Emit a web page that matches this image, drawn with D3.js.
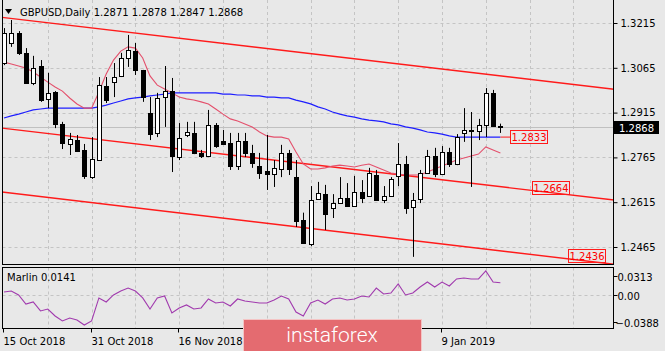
<!DOCTYPE html>
<html>
<head>
<meta charset="utf-8">
<script src="https://cdn.jsdelivr.net/npm/d3@7"></script>
<style>
  body { margin: 0; background: #e8e8e8; }
  svg { display: block; }
  text { font-family: "DejaVu Sans", sans-serif; font-size: 10px; }
</style>
</head>
<body>
<div class="container"></div>
<script>
// GBPUSD daily, bar 0 = 15 Oct 2018, last bar = 21 Jan 2019
var opens = [1.3081, 1.3148, 1.3182, 1.3115, 1.3014, 1.3071, 1.2961, 1.2984, 1.2877, 1.2810,
    1.2823, 1.2790, 1.2699, 1.2756, 1.3004, 1.3017, 1.3038, 1.3098, 1.3121, 1.3058,
    1.2914, 1.2847, 1.2967, 1.2987, 1.2766, 1.2840, 1.2847, 1.2780, 1.2770, 1.2874,
    1.2820, 1.2813, 1.2736, 1.2820, 1.2780, 1.2736, 1.2720, 1.2709, 1.2726, 1.2780,
    1.2699, 1.2555, 1.2475, 1.2626, 1.2642, 1.2596, 1.2612, 1.2629, 1.2602, 1.2649,
    1.2636, 1.2706, 1.2622, 1.2636, 1.2703, 1.2743, 1.2599, 1.2626, 1.2713, 1.2770,
    1.2709, 1.2783, 1.2743, 1.2847, 1.2857, 1.2853, 1.2874, 1.2981, 1.2871];
var highs = [1.3198, 1.3225, 1.3188, 1.3131, 1.3105, 1.3091, 1.3048, 1.2987, 1.2884, 1.2847,
    1.2840, 1.2810, 1.2833, 1.3034, 1.3034, 1.3081, 1.3115, 1.3175, 1.3148, 1.3058,
    1.2967, 1.2981, 1.3071, 1.3031, 1.2880, 1.2884, 1.2884, 1.2790, 1.2924, 1.2880,
    1.2857, 1.2847, 1.2847, 1.2847, 1.2807, 1.2780, 1.2840, 1.2756, 1.2807, 1.2790,
    1.2756, 1.2580, 1.2669, 1.2683, 1.2673, 1.2642, 1.2699, 1.2679, 1.2703, 1.2689,
    1.2730, 1.2723, 1.2669, 1.2699, 1.2813, 1.2770, 1.2646, 1.2723, 1.2790, 1.2797,
    1.2803, 1.2797, 1.2843, 1.2930, 1.2917, 1.2894, 1.2997, 1.2991, 1.2878];
var lows = [1.3074, 1.3135, 1.3108, 1.3014, 1.3007, 1.2951, 1.2930, 1.2863, 1.2793, 1.2773,
    1.2783, 1.2693, 1.2693, 1.2756, 1.2947, 1.2967, 1.3034, 1.3068, 1.3041, 1.2951,
    1.2823, 1.2833, 1.2867, 1.2716, 1.2756, 1.2833, 1.2776, 1.2763, 1.2766, 1.2797,
    1.2807, 1.2723, 1.2723, 1.2766, 1.2730, 1.2693, 1.2656, 1.2666, 1.2699, 1.2706,
    1.2532, 1.2475, 1.2468, 1.2626, 1.2522, 1.2562, 1.2612, 1.2599, 1.2599, 1.2612,
    1.2636, 1.2622, 1.2612, 1.2633, 1.2669, 1.2576, 1.2432, 1.2612, 1.2713, 1.2699,
    1.2706, 1.2733, 1.2739, 1.2817, 1.2666, 1.2823, 1.2833, 1.2870, 1.2847];
var closes = [1.3182, 1.3182, 1.3115, 1.3014, 1.3064, 1.2957, 1.2981, 1.2877, 1.2813, 1.2827,
    1.2786, 1.2703, 1.2760, 1.3007, 1.2957, 1.3034, 1.3098, 1.3125, 1.3058, 1.2967,
    1.2843, 1.2964, 1.2987, 1.2770, 1.2830, 1.2850, 1.2780, 1.2770, 1.2874, 1.2803,
    1.2810, 1.2736, 1.2820, 1.2780, 1.2746, 1.2713, 1.2709, 1.2730, 1.2780, 1.2726,
    1.2552, 1.2478, 1.2622, 1.2646, 1.2576, 1.2612, 1.2629, 1.2602, 1.2649, 1.2629,
    1.2713, 1.2622, 1.2636, 1.2693, 1.2743, 1.2596, 1.2622, 1.2713, 1.2770, 1.2709,
    1.2783, 1.2743, 1.2833, 1.2857, 1.2853, 1.2874, 1.2981, 1.2870, 1.2868];

var maFast = [1.3084, 1.3078, 1.3071, 1.3064, 1.3051, 1.3034, 1.3017, 1.3001, 1.2987, 1.2964,
    1.2944, 1.2930, 1.2930, 1.2984, 1.3044, 1.3091, 1.3121, 1.3135, 1.3131, 1.3098,
    1.3038, 1.3007, 1.2994, 1.2981, 1.2967, 1.2961, 1.2957, 1.2951, 1.2944, 1.2927,
    1.2910, 1.2894, 1.2887, 1.2877, 1.2867, 1.2850, 1.2837, 1.2833, 1.2833, 1.2827,
    1.2783, 1.2743, 1.2726, 1.2726, 1.2730, 1.2736, 1.2739, 1.2736, 1.2733, 1.2739,
    1.2743, 1.2733, 1.2723, 1.2713, 1.2709, 1.2706, 1.2706, 1.2706, 1.2716, 1.2726,
    1.2736, 1.2746, 1.2756, 1.2763, 1.2770, 1.2776, 1.2800, 1.2790, 1.2780];
var maSlow = [1.2897, 1.2904, 1.2910, 1.2917, 1.2924, 1.2927, 1.2930, 1.2930, 1.2930, 1.2930,
    1.2930, 1.2930, 1.2930, 1.2934, 1.2940, 1.2947, 1.2954, 1.2961, 1.2964, 1.2967,
    1.2971, 1.2974, 1.2977, 1.2981, 1.2981, 1.2981, 1.2981, 1.2981, 1.2981, 1.2981,
    1.2977, 1.2977, 1.2974, 1.2974, 1.2971, 1.2971, 1.2967, 1.2967, 1.2964, 1.2964,
    1.2957, 1.2951, 1.2944, 1.2934, 1.2927, 1.2917, 1.2910, 1.2904, 1.2900, 1.2894,
    1.2890, 1.2887, 1.2884, 1.2877, 1.2874, 1.2867, 1.2863, 1.2857, 1.2850, 1.2847,
    1.2843, 1.2837, 1.2833, 1.2833, 1.2833, 1.2833, 1.2833, 1.2833, 1.2833];
var marlin = [0.0033, 0.0044, -0.0002, -0.0108, -0.0084, -0.0189, -0.0166, -0.0248, -0.0306, -0.0271,
    -0.0294, -0.0353, -0.0306, -0.0037, -0.0084, -0.0002, 0.0044, 0.0079, 0.0044, -0.0037,
    -0.0166, -0.0037, -0.0014, -0.0213, -0.0154, -0.0119, -0.0166, -0.0154, -0.0049, -0.0096,
    -0.0084, -0.0131, -0.0049, -0.0073, -0.0084, -0.0096, -0.0096, -0.0061, -0.0014, -0.0049,
    -0.0201, -0.0248, -0.0096, -0.0061, -0.0108, -0.0049, -0.0037, -0.0061, -0.0049, -0.0014,
    -0.0026, 0.0079, 0.0009, 0.0021, 0.0126, -0.0002, 0.0021, 0.0091, 0.0149, 0.0091,
    0.0149, 0.0103, 0.0185, 0.0196, 0.0185, 0.0185, 0.0278, 0.0149, 0.0141];

// channel lines: [bar, price] at both ends
var channelBars = [-1, 84];
var channelTop = [1.3236, 1.2992];
var channelMid = [1.2865, 1.2621];
var channelLow = [1.2651, 1.2406];

var priceTicks = [1.3215, 1.3065, 1.2915, 1.2765, 1.2615, 1.2465];
var marlinTicks = [0.0313, 0, -0.0388];
// the 4 Dec and 20 Dec labels sit under the watermark in the original, so only the visible ones
var dateLabels = ['15 Oct 2018', '31 Oct 2018', '16 Nov 2018', '9 Jan 2019'];
var dateBars = [0, 12, 24, 60];
var gridBars = [6, 12, 18, 24, 30, 36, 42, 48, 54, 60, 66, 72, 78];
var lineLabels = [{value: 1.2833, x: 510}, {value: 1.2664, x: 532}, {value: 1.2436, x: 568}];

const WIDTH = 665, HEIGHT = 351;
const LEFT = 2.5, RIGHT = 613.5, MAIN_BOTTOM = 264.5, IND_TOP = 267.5, IND_BOTTOM = 328.5;

var xScale = d3.scaleLinear().domain([0, 68]).range([4, 500.4]);
var yScale = d3.scaleLinear().domain([1.2465, 1.3215]).range([247, 23]);
var mScale = d3.scaleLinear().domain([-0.0388, 0.0313]).range([328, 268]);

var px = function (i) { return Math.round(xScale(i)) + 0.5; };

var svg = d3.select('.container').append('svg')
    .attr('width', WIDTH).attr('height', HEIGHT);

svg.append('rect').attr('width', WIDTH).attr('height', HEIGHT).attr('fill', '#e8e8e8');

var defs = svg.append('defs');
defs.append('clipPath').attr('id', 'mainClip').append('rect')
    .attr('x', LEFT).attr('y', 0).attr('width', RIGHT - LEFT).attr('height', MAIN_BOTTOM);
defs.append('clipPath').attr('id', 'indClip').append('rect')
    .attr('x', LEFT).attr('y', IND_TOP).attr('width', RIGHT - LEFT).attr('height', IND_BOTTOM - IND_TOP);

// grid
var grid = svg.append('g').attr('stroke', '#c4c4c4').attr('stroke-dasharray', '3,3');
gridBars.forEach(function (b) {
    var x = px(b);
    if (x > RIGHT) return;
    grid.append('line').attr('x1', x).attr('x2', x).attr('y1', 0).attr('y2', MAIN_BOTTOM);
    grid.append('line').attr('x1', x).attr('x2', x).attr('y1', IND_TOP).attr('y2', IND_BOTTOM);
});
priceTicks.forEach(function (p) {
    var y = Math.round(yScale(p)) + 0.5;
    grid.append('line').attr('x1', LEFT).attr('x2', RIGHT).attr('y1', y).attr('y2', y);
});
grid.append('line').attr('x1', LEFT).attr('x2', RIGHT)
    .attr('y1', Math.round(mScale(0)) + 0.5).attr('y2', Math.round(mScale(0)) + 0.5);

var main = svg.append('g').attr('clip-path', 'url(#mainClip)');

// bid line
var bidY = Math.round(yScale(closes[closes.length - 1])) + 0.5;
main.append('line').attr('x1', LEFT).attr('x2', RIGHT).attr('y1', bidY).attr('y2', bidY)
    .attr('stroke', '#c0c0c0');

// channel
[channelTop, channelMid, channelLow].forEach(function (ch) {
    main.append('line')
        .attr('x1', xScale(channelBars[0])).attr('y1', yScale(ch[0]))
        .attr('x2', xScale(channelBars[1])).attr('y2', yScale(ch[1]))
        .attr('stroke', '#ff1a1a').attr('stroke-width', 1.4);
});

// moving averages
var bars = d3.range(closes.length);
var maLine = function (values) {
    return d3.line().x(function (i) { return xScale(i); }).y(function (i) { return yScale(values[i]); });
};
main.append('path').datum(bars).attr('d', maLine(maSlow))
    .attr('fill', 'none').attr('stroke', '#1e1eff').attr('stroke-width', 1.2);
main.append('path').datum(bars).attr('d', maLine(maFast))
    .attr('fill', 'none').attr('stroke', '#e4506c').attr('stroke-width', 1.1);

// candles
var candles = main.selectAll('g.candle').data(bars).enter().append('g').classed('candle', true);
candles.append('line')
    .attr('x1', function (i) { return px(i); }).attr('x2', function (i) { return px(i); })
    .attr('y1', function (i) { return yScale(highs[i]); })
    .attr('y2', function (i) { return yScale(lows[i]); })
    .attr('stroke', '#000');
candles.append('rect')
    .attr('x', function (i) { return px(i) - 2; })
    .attr('width', 4)
    .attr('y', function (i) { return Math.round(yScale(Math.max(opens[i], closes[i]))) + 0.5; })
    .attr('height', function (i) {
        return Math.max(1, Math.round(yScale(Math.min(opens[i], closes[i])) - yScale(Math.max(opens[i], closes[i]))));
    })
    .attr('fill', function (i) { return closes[i] > opens[i] ? '#fff' : '#000'; })
    .attr('stroke', '#000');

// line value labels
var lastX = px(68);
main.append('line').attr('x1', lastX).attr('x2', 510)
    .attr('y1', yScale(lineLabels[0].value)).attr('y2', yScale(lineLabels[0].value))
    .attr('stroke', '#ff1a1a');
lineLabels.forEach(function (l) {
    var y = Math.round(yScale(l.value));
    var g = svg.append('g');
    g.append('rect').attr('x', l.x + 0.5).attr('y', y - 6.5).attr('width', 37).attr('height', 13)
        .attr('fill', 'none').attr('stroke', '#ff1a1a');
    g.append('text').attr('x', l.x + 19).attr('y', y + 4).attr('text-anchor', 'middle')
        .attr('fill', '#ff0000').text(d3.format('.4f')(l.value));
});

// indicator
svg.append('g').attr('clip-path', 'url(#indClip)').append('path').datum(bars)
    .attr('d', d3.line().x(function (i) { return xScale(i); }).y(function (i) { return mScale(marlin[i]); }))
    .attr('fill', 'none').attr('stroke', '#a13aae').attr('stroke-width', 1.1);

// panel borders
svg.append('rect').attr('x', LEFT).attr('y', -1).attr('width', RIGHT - LEFT).attr('height', MAIN_BOTTOM + 1)
    .attr('fill', 'none').attr('stroke', '#000');
svg.append('rect').attr('x', LEFT).attr('y', IND_TOP).attr('width', RIGHT - LEFT).attr('height', IND_BOTTOM - IND_TOP)
    .attr('fill', 'none').attr('stroke', '#000');

// price axis
var priceAxis = svg.append('g').attr('transform', 'translate(' + RIGHT + ',0)')
    .call(d3.axisRight(yScale).tickValues(priceTicks).tickFormat(d3.format('.4f')).tickSize(4).tickPadding(3));
priceAxis.select('.domain').remove();
priceAxis.selectAll('text').attr('fill', '#000').style('font-size', '10px').style('font-family', 'DejaVu Sans');

// marlin axis
var mAxis = svg.append('g').attr('transform', 'translate(' + RIGHT + ',0)');
marlinTicks.forEach(function (v) {
    var y = mScale(v);
    if (v === marlinTicks[0]) y += 8;
    if (v === marlinTicks[2]) y -= 6;
    y = Math.round(y) + 0.5;
    mAxis.append('line').attr('x1', 0).attr('x2', 4).attr('y1', y).attr('y2', y).attr('stroke', '#000');
    mAxis.append('text').attr('x', v < 0 ? 2 : 4).attr('y', y + 4).attr('fill', '#000')
        .text(v === 0 ? '0.00' : d3.format('.4f')(v));
});

// bid price box
var last = closes[closes.length - 1];
svg.append('rect').attr('x', 614).attr('y', bidY - 6.5).attr('width', 45).attr('height', 13).attr('fill', '#000');
svg.append('text').attr('x', 636.5).attr('y', bidY + 4).attr('text-anchor', 'middle').attr('fill', '#fff')
    .text(d3.format('.4f')(last));

// time axis
var tAxis = svg.append('g').attr('transform', 'translate(0,' + IND_BOTTOM + ')');
dateBars.forEach(function (b, k) {
    var x = Math.round(xScale(b)) - 0.5;
    tAxis.append('line').attr('x1', x).attr('x2', x).attr('y1', 0).attr('y2', 4).attr('stroke', '#000');
    tAxis.append('text').attr('x', x).attr('y', 16).attr('fill', '#000').text(dateLabels[k]);
});

// header
svg.append('path').attr('d', 'M5,9 L12,9 L8.5,14 Z').attr('fill', '#000');
var n = closes.length - 1;
svg.append('text').attr('x', 20).attr('y', 16).attr('fill', '#000')
    .text('GBPUSD,Daily  ' + [opens[n], highs[n], lows[n], closes[n]].map(d3.format('.4f')).join(' '));
svg.append('text').attr('x', 7).attr('y', 281).attr('fill', '#000').text('Marlin ' + d3.format('.4f')(marlin[n]));

// watermark
var logo = svg.append('g');
logo.append('rect').attr('x', 243.5).attr('y', 319.5).attr('width', 178).attr('height', 33)
    .attr('fill', '#e46b70').attr('stroke', '#f4c4c4');
logo.append('text').attr('x', 332).attr('y', 342).attr('text-anchor', 'middle').attr('fill', '#fff')
    .style('font-family', 'Roboto').style('font-weight', '300').style('font-size', '21px')
    .text('instaforex');
</script>
</body>
</html>
